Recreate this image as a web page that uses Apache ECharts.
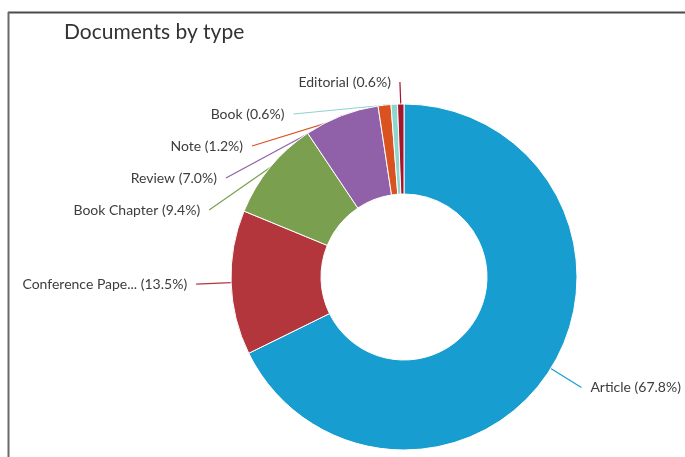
<!DOCTYPE html>
<html>
<head>
<meta charset="utf-8">
<script src="https://cdn.jsdelivr.net/npm/echarts@6/dist/echarts.min.js"></script>
<style>
html,body{margin:0;padding:0;background:#fff;}
#chart{width:685px;height:457px;}
</style>
</head>
<body>
<div id="chart"></div>
<script>
const categories = ['Article', 'Conference Paper', 'Book Chapter', 'Review', 'Note', 'Book', 'Editorial'];
const shares = [67.8, 13.5, 9.4, 7.0, 1.2, 0.6, 0.6];
const sliceColors = ['#179dcf', '#b4363d', '#7a9f4f', '#9060a8', '#d9521f', '#8dd5cd', '#a3162b'];

const chart = echarts.init(document.getElementById('chart'), null, {renderer: 'canvas'});
const seriesData = categories.map((c, i) => ({
  name: c,
  value: shares[i],
  itemStyle: {color: sliceColors[i]},
  labelLine: {
    lineStyle: {color: sliceColors[i]},
    length: c === 'Article' ? 36 : 44,
    smooth: c === 'Editorial' ? 0.4 : false
  }
}));

const boxTop = 66;

chart.setOption({
  animation: false,
  backgroundColor: '#fff',
  graphic: [
    {type: 'line', shape: {x1: 8, y1: 12.5, x2: 685, y2: 12.5}, style: {stroke: '#4a4a4a', lineWidth: 2}},
    {type: 'line', shape: {x1: 8.5, y1: 12, x2: 8.5, y2: 457}, style: {stroke: '#6a6a6a', lineWidth: 2}},
    {type: 'text', left: 64, top: 22, style: {text: 'Documents by type', font: '21px Lato', fill: '#333'}}
  ],
  series: [{
    type: 'pie',
    left: 0,
    top: boxTop,
    width: 685,
    height: 457 - boxTop,
    center: [404, 277 - boxTop],
    radius: [83, 173],
    startAngle: 90,
    clockwise: true,
    avoidLabelOverlap: true,
    itemStyle: {borderColor: '#fff', borderWidth: 1},
    label: {
      show: true,
      position: 'outside',
      color: '#3d3d3d',
      fontFamily: 'Lato',
      fontSize: 14,
      lineHeight: 30,
      overflow: 'none',
      distanceToLabelLine: 9,
      formatter: p => {
        const n = p.name.length > 15 ? p.name.slice(0, 15) + '...' : p.name;
        return n + ' (' + p.value.toFixed(1) + '%)';
      }
    },
    labelLine: {show: true, length: 36, length2: 0, lineStyle: {width: 1.2}},
    emphasis: {disabled: true},
    data: seriesData
  }]
});
</script>
</body>
</html>
